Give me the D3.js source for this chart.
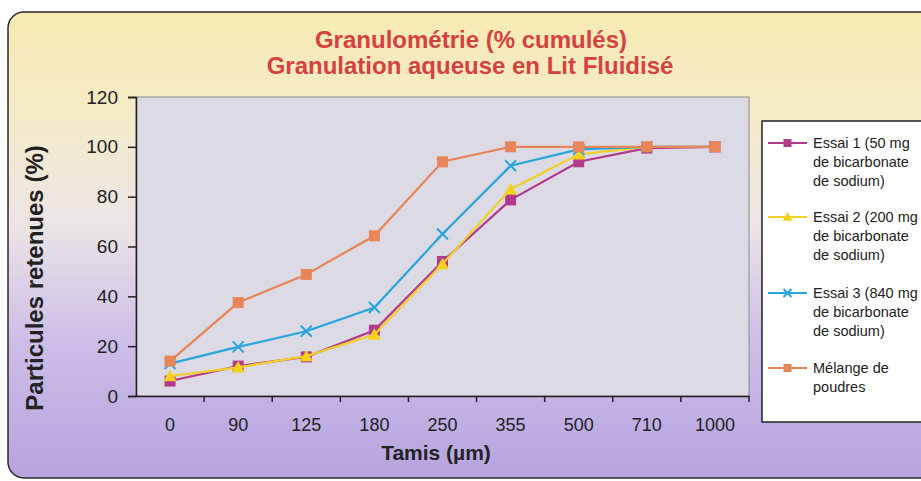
<!DOCTYPE html>
<html><head><meta charset="utf-8">
<script src="https://cdn.jsdelivr.net/npm/d3@7"></script>
<style>body{margin:0;background:#fff}svg{display:block}</style>
</head><body>
<svg id="c" width="921" height="481"></svg>
<script>
const categories = ["0","90","125","180","250","355","500","710","1000"];
const essai1 = [6, 12, 15.7, 26.4, 54, 78.7, 94, 99.5, 100];
const essai2 = [8, 11.5, 16, 24.7, 53, 83, 97, 100, 100];
const essai3 = [13, 19.7, 26, 35.5, 65, 92.4, 99, 100, 100];
const melange = [14, 37.5, 48.8, 64.3, 94, 100, 100, 100, 100];
const yTicks = [0, 20, 40, 60, 80, 100, 120];
const seriesNames = [["Essai 1 (50 mg","de bicarbonate","de sodium)"],["Essai 2 (200 mg","de bicarbonate","de sodium)"],["Essai 3 (840 mg","de bicarbonate","de sodium)"],["Mélange de","poudres"]];

const svg = d3.select("#c");
const defs = svg.append("defs");
const g1 = defs.append("linearGradient").attr("id","bg").attr("x1",0).attr("y1",0).attr("x2",0).attr("y2",1);
[[0,"#f7eab2"],[0.2,"#f5ebc6"],[0.45,"#ece6e6"],[0.7,"#cdbfe8"],[1,"#b6a4df"]].forEach(([o,c])=>g1.append("stop").attr("offset",o).attr("stop-color",c));

svg.append("rect").attr("x",8).attr("y",12).attr("width",940).attr("height",466).attr("rx",16)
  .attr("fill","url(#bg)").attr("stroke","#2a2a2a").attr("stroke-width",1.5);

const L=136, R=749, T=97, B=396;
const x = d3.scaleBand().domain(categories).range([L,R]);
const y = d3.scaleLinear().domain([0,120]).range([B,T]);
const ff = "Liberation Sans, Arial, sans-serif";

svg.append("rect").attr("x",L).attr("y",T).attr("width",R-L).attr("height",B-T)
  .attr("fill","#dcdbe5").attr("stroke","#8a8a8a").attr("stroke-width",1);

// axes
const ya = svg.append("g").attr("transform",`translate(${L},0)`)
  .call(d3.axisLeft(y).tickValues(yTicks).tickSize(8).tickPadding(10));
ya.select(".domain").attr("stroke","#222").attr("stroke-width",1.5);
ya.selectAll(".tick line").attr("stroke","#222").attr("stroke-width",1.5);
ya.selectAll("text").attr("font-family",ff).attr("font-size",19).attr("fill","#222");

const xa = svg.append("g").attr("transform",`translate(0,${B})`)
  .call(d3.axisBottom(x).tickSize(0).tickPadding(22));
xa.select(".domain").attr("stroke","#222").attr("stroke-width",1.5);
xa.selectAll("text").attr("font-family",ff).attr("font-size",18).attr("fill","#222");
// tick marks between categories
svg.append("g").selectAll("line").data(categories).join("line")
  .attr("x1",(d,i)=>L+(i+1)*x.step()).attr("x2",(d,i)=>L+(i+1)*x.step())
  .attr("y1",B).attr("y2",B+6).attr("stroke","#222").attr("stroke-width",1.5);

// titles
svg.append("text").attr("x",471).attr("y",48).attr("text-anchor","middle").attr("font-family",ff)
  .attr("font-weight","bold").attr("font-size",24).attr("fill","#d5413f").text("Granulométrie (% cumulés)");
svg.append("text").attr("x",470).attr("y",74).attr("text-anchor","middle").attr("font-family",ff)
  .attr("font-weight","bold").attr("font-size",24).attr("fill","#d5413f").text("Granulation aqueuse en Lit Fluidisé");
svg.append("text").attr("transform","translate(43,278) rotate(-90)").attr("text-anchor","middle")
  .attr("font-family",ff).attr("font-weight","bold").attr("font-size",24)
  .attr("fill","#222").text("Particules retenues (%)");
svg.append("text").attr("x",436).attr("y",460).attr("text-anchor","middle")
  .attr("font-family",ff).attr("font-weight","bold").attr("font-size",21)
  .attr("fill","#222").text("Tamis (µm)");

const series = [
  {vals:essai1, color:"#b23a8c", mark:"square", mfill:"#b23a8c"},
  {vals:essai2, color:"#f2cf2a", mark:"triangle", mfill:"#f4d21c"},
  {vals:essai3, color:"#2aa5dc", mark:"x", mfill:"#2aa5dc"},
  {vals:melange, color:"#e8865a", mark:"square", mfill:"#e8865a"}
];
const cx = c => x(c)+x.bandwidth()/2;
const line = d3.line().x((d,i)=>cx(categories[i])).y(d=>y(d));

function drawMarker(sel, s, px, py, size){
  if(s.mark==="square"){
    sel.append("rect").attr("x",px-size/2).attr("y",py-size/2).attr("width",size).attr("height",size).attr("fill",s.mfill);
  } else if(s.mark==="triangle"){
    const h=size*0.95;
    sel.append("path").attr("d",`M${px},${py-h/2-1}L${px+size/2+1},${py+h/2}L${px-size/2-1},${py+h/2}Z`).attr("fill",s.mfill);
  } else {
    const r=size/2;
    sel.append("path").attr("d",`M${px-r},${py-r}L${px+r},${py+r}M${px-r},${py+r}L${px+r},${py-r}`).attr("stroke",s.mfill).attr("stroke-width",2);
  }
}

series.forEach(s=>{
  svg.append("path").datum(s.vals).attr("d",line).attr("fill","none").attr("stroke",s.color).attr("stroke-width",2.2);
  const mg = svg.append("g");
  s.vals.forEach((v,i)=>drawMarker(mg, s, cx(categories[i]), y(v), 11));
});

// legend
svg.append("rect").attr("x",762).attr("y",121).attr("width",180).attr("height",301).attr("fill","#fff").attr("stroke","#222").attr("stroke-width",1.5);
const legY=[143,217,293,368];
series.forEach((s,i)=>{
  const lg = svg.append("g");
  lg.append("line").attr("x1",768).attr("x2",807).attr("y1",legY[i]).attr("y2",legY[i]).attr("stroke",s.color).attr("stroke-width",2);
  drawMarker(lg, s, 787.5, legY[i], 8);
  seriesNames[i].forEach((t,k)=>{
    lg.append("text").attr("x",813).attr("y",legY[i]+5+k*19).attr("font-family",ff)
      .attr("font-size",14.5).attr("fill","#222").text(t);
  });
});
</script>
</body></html>
